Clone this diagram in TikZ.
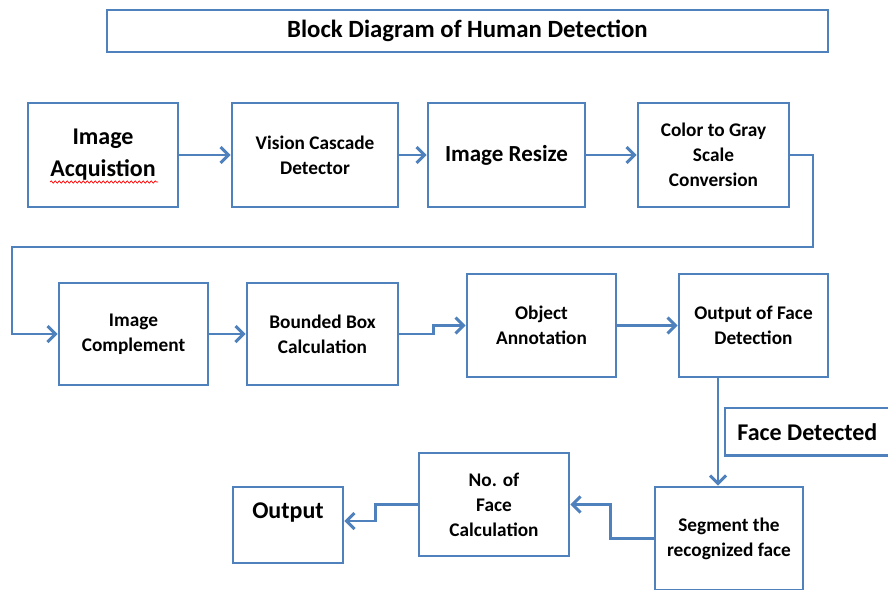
\documentclass[tikz,border=0pt]{standalone}
\usepackage{fontspec}
\setmainfont{Carlito}
\usetikzlibrary{positioning,arrows.meta,decorations.pathmorphing}
\definecolor{blockBlue}{RGB}{79,129,189}
\tikzset{myBlock/.style={draw=blockBlue, line width=2.9pt, align=center, inner sep=4pt, font=\bfseries\fontsize{19.3}{25}\selectfont}}
\tikzset{myBigText/.style={font=\bfseries\fontsize{24}{32}\selectfont}}
\tikzset{myArrow/.style={draw=blockBlue, line width=2.9pt, -{Straight Barb[length=8pt,width=16pt]}}}

\begin{document}
\begin{tikzpicture}[x=1pt,y=-1pt]
	\useasboundingbox (0,0) rectangle (888,589);
	\clip (0,0) rectangle (888,589);
	% title
	\node[myBlock, font=\bfseries\fontsize{24.8}{30}\selectfont, line width=2.4pt, minimum width=721, minimum height=42] (title) at (467.5,31) {Block Diagram of Human Detection};
	
	% first row
	\node[myBlock, myBigText, minimum width=150, minimum height=104] (acq) at (103,155) {Image\\Acquistion};
	\node[myBlock, minimum width=166, minimum height=104] (vis) at (315,155) {Vision Cascade\\Detector};
	\node[myBlock, font=\bfseries\fontsize{23}{30}\selectfont, minimum width=157, minimum height=104] (res) at (506.5,155) {Image Resize};
	\node[myBlock, minimum width=151, minimum height=104] (col) at (713.5,155) {Color to Gray\\Scale\\Conversion};
	\draw[red, line width=0.7pt, decorate, decoration={snake, amplitude=1.2pt, segment length=4pt}] (50,182) -- (158,182);
	
	% second row
	\node[myBlock, minimum width=149, minimum height=102] (comp) at (133.5,334) {Image\\Complement};
	\node[myBlock, minimum width=151, minimum height=102] (bbox) at (322.5,334) {Bounded Box\\Calculation};
	\node[myBlock, minimum width=149, minimum height=103] (obj) at (541.5,325.5) {Object\\Annotation};
	\node[myBlock, minimum width=149, minimum height=103] (ofd) at (753.5,325.5) {Output of Face\\Detection};
	\node[myBlock, draw=none, myBigText, inner xsep=11pt, minimum height=45, anchor=north west] (fdet) at (725,408) {\makebox[220pt][l]{Face Detected}};
	\draw[blockBlue, line width=2.9pt] (fdet.north east) -| (fdet.south west) -- (fdet.south east);
	
	% third row
	\node[myBlock, minimum width=148, minimum height=103] (seg) at (729,538.5) {Segment the\\recognized face};
	\node[myBlock, minimum width=150, minimum height=103] (nof) at (494,504.5) {No. of\\Face\\Calculation};
	\node[myBlock, myBigText, minimum width=110, minimum height=76, text height=17, text depth=31] (out) at (288,525) {Output};
	
	% connectors
	\draw[myArrow] (acq) -- (vis);
	\draw[myArrow] (vis) -- (res);
	\draw[myArrow] (res) -- (col);
	\coordinate (wrapRight) at (813,247);
	\coordinate (wrapLeft) at (12,334);
	\draw[myArrow] (col.east) -| (wrapRight) -| (wrapLeft) -- (comp.west);
	\draw[myArrow] (comp) -- (bbox);
	\draw[myArrow] (bbox.east) -- ++(34,0) |- (obj.west);
	\draw[myArrow] (obj) -- (ofd);
	\coordinate (faceLine) at (718,400);
	\draw[myArrow] (ofd.south -| faceLine) -- (seg.north -| faceLine);
	\draw[myArrow] (seg.west) -- ++(-43,0) |- (nof.east);
	\draw[myArrow] (nof.west) -- ++(-42,0) |- ([yshift=4pt]out.east);
\end{tikzpicture}
\end{document}
